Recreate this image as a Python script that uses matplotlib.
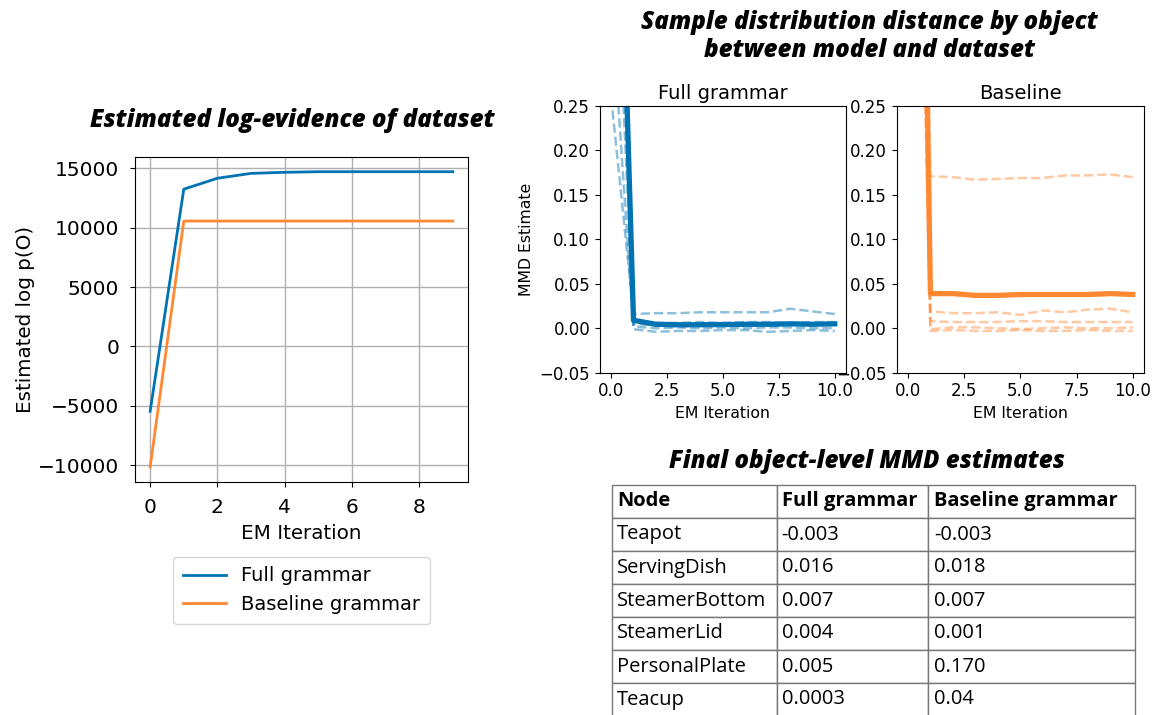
import numpy as np
import matplotlib.pyplot as plt

# colours for the two grammars
c_full = '#0173b2'
c_base = '#ff8833'

# log-evidence per EM iteration
em_iters = np.arange(10)
logev_full = [-5450, 13230, 14150, 14560, 14650, 14700, 14700, 14700, 14700, 14700]
logev_base = [-10150, 10550, 10550, 10550, 10550, 10550, 10550, 10550, 10550, 10550]

# MMD estimates per EM iteration (thick = scene level, dashed = per object)
mmd_iters = np.arange(11)
mmd_ticks = [0, 2.5, 5, 7.5, 10]
mmd_full = [0.85, 0.009, 0.0045, 0.004, 0.004, 0.0042, 0.0045, 0.0045, 0.005, 0.0045, 0.005]
mmd_full_obj = [
    [0.26, 0.016, 0.017, 0.017, 0.018, 0.018, 0.018, 0.018, 0.022, 0.019, 0.016],
    [0.37, -0.001, -0.004, -0.003, -0.003, -0.002, -0.002, -0.004, -0.003, -0.002, -0.003],
    [0.55, 0.008, 0.006, 0.006, 0.007, 0.006, 0.007, 0.007, 0.006, 0.007, 0.007],
    [0.70, 0.005, 0.003, 0.002, 0.003, 0.003, 0.004, 0.003, 0.004, 0.004, 0.004],
    [0.90, 0.002, 0.000, 0.001, 0.000, 0.001, 0.000, 0.001, 0.001, 0.000, 0.0003],
]
mmd_base = [1.6, 0.039, 0.039, 0.037, 0.037, 0.038, 0.038, 0.038, 0.038, 0.039, 0.038]
mmd_base_obj = [
    [1.5, 0.171, 0.170, 0.167, 0.168, 0.169, 0.169, 0.172, 0.172, 0.173, 0.170],
    [1.4, 0.019, 0.017, 0.017, 0.018, 0.015, 0.020, 0.018, 0.021, 0.022, 0.018],
    [1.3, 0.008, 0.007, 0.007, 0.007, 0.008, 0.008, 0.007, 0.007, 0.007, 0.007],
    [1.2, -0.001, 0.001, 0.001, 0.000, -0.001, 0.000, 0.001, 0.000, 0.000, 0.001],
    [1.1, -0.003, -0.002, -0.003, -0.003, -0.002, -0.003, -0.003, -0.002, -0.003, -0.003],
]

# final per-object table
nodes = ['Teapot', 'ServingDish', 'SteamerBottom', 'SteamerLid', 'PersonalPlate', 'Teacup']
final_full = ['-0.003', '0.016', '0.007', '0.004', '0.005', '0.0003']
final_base = ['-0.003', '0.018', '0.007', '0.001', '0.170', '0.04']
col_labels = ['Node', 'Full grammar', 'Baseline grammar']

title_font = dict(family='Open Sans', fontweight='heavy', style='italic', fontsize=17.4)

fig = plt.figure(figsize=(11.56, 7.15), dpi=100)

# --- log-evidence panel ---
ax = fig.add_axes([0.1168, 0.326, 0.288, 0.4545])
ax.plot(em_iters, logev_full, color=c_full, lw=2, label='Full grammar')
ax.plot(em_iters, logev_base, color=c_base, lw=2, label='Baseline grammar')
ax.grid(True, color='#b0b0b0', lw=1)
ax.tick_params(labelsize=14.5, pad=8)
ax.set_xlabel('EM Iteration', fontsize=14.3, labelpad=5)
ax.set_ylabel('Estimated log p(O)', fontsize=14.3, labelpad=2)
ax.legend(loc='upper center', bbox_to_anchor=(0.5, -0.2), fontsize=14,
          handlelength=2.2, borderpad=0.5)
fig.text(0.253, 0.831, 'Estimated log-evidence of dataset', ha='center', va='center',
         **title_font)

# --- MMD panels ---
ax1 = fig.add_axes([0.519, 0.4787, 0.2128, 0.373])
for ys in mmd_full_obj:
    ax1.plot(mmd_iters, ys, '--', color=c_full, alpha=0.45, lw=1.8)
ax1.plot(mmd_iters, mmd_full, color=c_full, lw=3.8)
ax1.set_ylim(-0.05, 0.25)
ax1.set_xticks(mmd_ticks)
ax1.set_title('Full grammar', fontsize=14, pad=5)
ax1.set_xlabel('EM Iteration', fontsize=11.3)
ax1.set_ylabel('MMD Estimate', fontsize=11.3)
ax1.tick_params(labelsize=12)

ax2 = fig.add_axes([0.7757, 0.4787, 0.2139, 0.373])
for ys in mmd_base_obj:
    ax2.plot(mmd_iters, ys, '--', color=c_base, alpha=0.45, lw=1.8)
ax2.plot(mmd_iters, mmd_base, color=c_base, lw=3.8)
ax2.set_ylim(-0.05, 0.25)
ax2.set_xticks(mmd_ticks)
ax2.set_title('Baseline', fontsize=14, pad=5)
ax2.set_xlabel('EM Iteration', fontsize=11.3)
ax2.tick_params(labelsize=12)

fig.text(0.752, 0.949, 'Sample distribution distance by object\nbetween model and dataset',
         ha='center', va='center', linespacing=1.15, **title_font)

# --- final MMD table ---
fig.text(0.75, 0.355, 'Final object-level MMD estimates', ha='center', va='center',
         **title_font)
tax = fig.add_axes([612 / 1156, -1 / 715, 523 / 1156, 231 / 715])
tax.axis('off')
cells = [[n, f, b] for n, f, b in zip(nodes, final_full, final_base)]
tbl = tax.table(cellText=cells, colLabels=col_labels, bbox=[0, 0, 1, 1],
                colWidths=[165, 151, 207], cellLoc='left', colLoc='left')
tbl.auto_set_font_size(False)
for (r, c), cell in tbl.get_celld().items():
    cell.set_edgecolor('#777777')
    cell.set_linewidth(1)
    cell.PAD = 0.03
    txt = cell.get_text()
    txt.set_fontfamily('Open Sans')
    txt.set_fontsize(14.5)
    if r == 0:
        txt.set_fontweight('bold')

fig.savefig('out.png', dpi=100)
